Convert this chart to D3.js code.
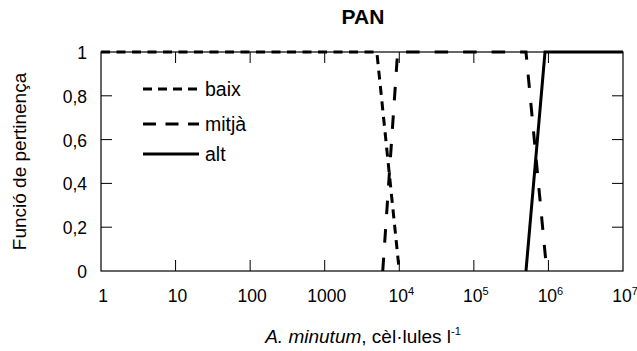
<!DOCTYPE html>
<html>
<head>
<meta charset="utf-8">
<script src="https://cdn.jsdelivr.net/npm/d3@7"></script>
<style>
  body { margin: 0; background: #fff; }
  svg { font-family: "Liberation Sans", Arial, Helvetica, sans-serif; }
</style>
</head>
<body>
<div id="chart"></div>
<script>
// membership functions, [cells per litre, membership]
const baix = [[1, 1], [5000, 1], [10000, 0]];
const mitja = [[6000, 0], [9500, 1], [500000, 1], [950000, 0]];
const alt = [[500000, 0], [900000, 1], [1e7, 1]];

const xTicks = [1, 10, 100, 1000, 1e4, 1e5, 1e6, 1e7];
const yTicks = [0, 0.2, 0.4, 0.6, 0.8, 1];

const series = [
  { name: 'baix', data: baix, dash: '9,6.5', legendDash: '9,6', ly: 89 },
  { name: 'mitjà', data: mitja, dash: '13.5,15', legendDash: '13,9.5', ly: 124 },
  { name: 'alt', data: alt, dash: null, legendDash: null, ly: 154 }
];

const width = 637, height = 351;
const margin = { top: 52, right: 14, bottom: 80, left: 101 };

const x = d3.scaleLog().domain([1, 1e7]).range([margin.left, width - margin.right]);
const y = d3.scaleLinear().domain([0, 1]).range([height - margin.bottom, margin.top]);

const svg = d3.select('#chart').append('svg')
  .attr('width', width)
  .attr('height', height);

const tickLen = 11;

// x tick label: plain numbers up to 1000, powers of ten after
function xLabel(sel, d) {
  const e = Math.round(Math.log10(d));
  if (e <= 3) {
    sel.text(d3.format('d')(d));
  } else {
    sel.text('10');
    sel.append('tspan').attr('font-size', 11).attr('dy', -7).text(e);
  }
}

// ticks, inward on all four sides
const ticks = svg.append('g').attr('stroke', '#000').attr('stroke-width', 1);
xTicks.slice(1, -1).forEach(d => {
  ticks.append('line').attr('x1', x(d)).attr('x2', x(d))
    .attr('y1', y(0)).attr('y2', y(0) - tickLen);
  ticks.append('line').attr('x1', x(d)).attr('x2', x(d))
    .attr('y1', y(1)).attr('y2', y(1) + tickLen);
});
yTicks.slice(1, -1).forEach(d => {
  ticks.append('line').attr('x1', x(1)).attr('x2', x(1) + tickLen)
    .attr('y1', y(d)).attr('y2', y(d));
  ticks.append('line').attr('x1', x(1e7)).attr('x2', x(1e7) - tickLen)
    .attr('y1', y(d)).attr('y2', y(d));
});

// frame
svg.append('rect')
  .attr('x', x(1)).attr('y', y(1))
  .attr('width', x(1e7) - x(1)).attr('height', y(0) - y(1))
  .attr('fill', 'none').attr('stroke', '#000').attr('stroke-width', 1.2);

// tick labels
svg.append('g').attr('font-size', 17.5).attr('text-anchor', 'middle')
  .selectAll('text').data(xTicks).join('text')
  .attr('x', d => x(d) + 2)
  .attr('y', y(0) + 31)
  .each(function (d) { xLabel(d3.select(this), d); });

svg.append('g').attr('font-size', 17.5).attr('text-anchor', 'end')
  .selectAll('text').data(yTicks).join('text')
  .attr('x', x(1) - 14)
  .attr('y', d => y(d) + 7)
  .text(d => d3.format('.1f')(d).replace('.', ',').replace(/^0,0$/, '0').replace(/^1,0$/, '1'));

// curves
const line = d3.line().x(d => x(d[0])).y(d => y(d[1]));
svg.append('g').selectAll('path').data(series).join('path')
  .attr('d', d => line(d.data))
  .attr('fill', 'none')
  .attr('stroke', '#000')
  .attr('stroke-width', 3)
  .attr('stroke-dasharray', d => d.dash);

// legend
const legend = svg.append('g').attr('font-size', 19.5);
series.forEach(s => {
  legend.append('line')
    .attr('x1', 143).attr('x2', 199).attr('y1', s.ly).attr('y2', s.ly)
    .attr('stroke', '#000').attr('stroke-width', 3)
    .attr('stroke-dasharray', s.legendDash);
  legend.append('text').attr('x', 205).attr('y', s.ly + 7).text(s.name);
});

// title and axis labels
svg.append('text')
  .attr('x', 363).attr('y', 24)
  .attr('text-anchor', 'middle')
  .attr('font-size', 21).attr('font-weight', 'bold')
  .text('PAN');

svg.append('text')
  .attr('transform', `translate(26,${(y(0) + y(1)) / 2}) rotate(-90)`)
  .attr('text-anchor', 'middle')
  .attr('font-size', 19)
  .text('Funció de pertinença');

const xl = svg.append('text')
  .attr('x', 363).attr('y', 343)
  .attr('text-anchor', 'middle')
  .attr('font-size', 19);
xl.append('tspan').attr('font-style', 'italic').text('A. minutum');
xl.append('tspan').text(', cèl·lules l');
xl.append('tspan').attr('font-size', 11).attr('dy', -8).text('-1');
</script>
</body>
</html>
